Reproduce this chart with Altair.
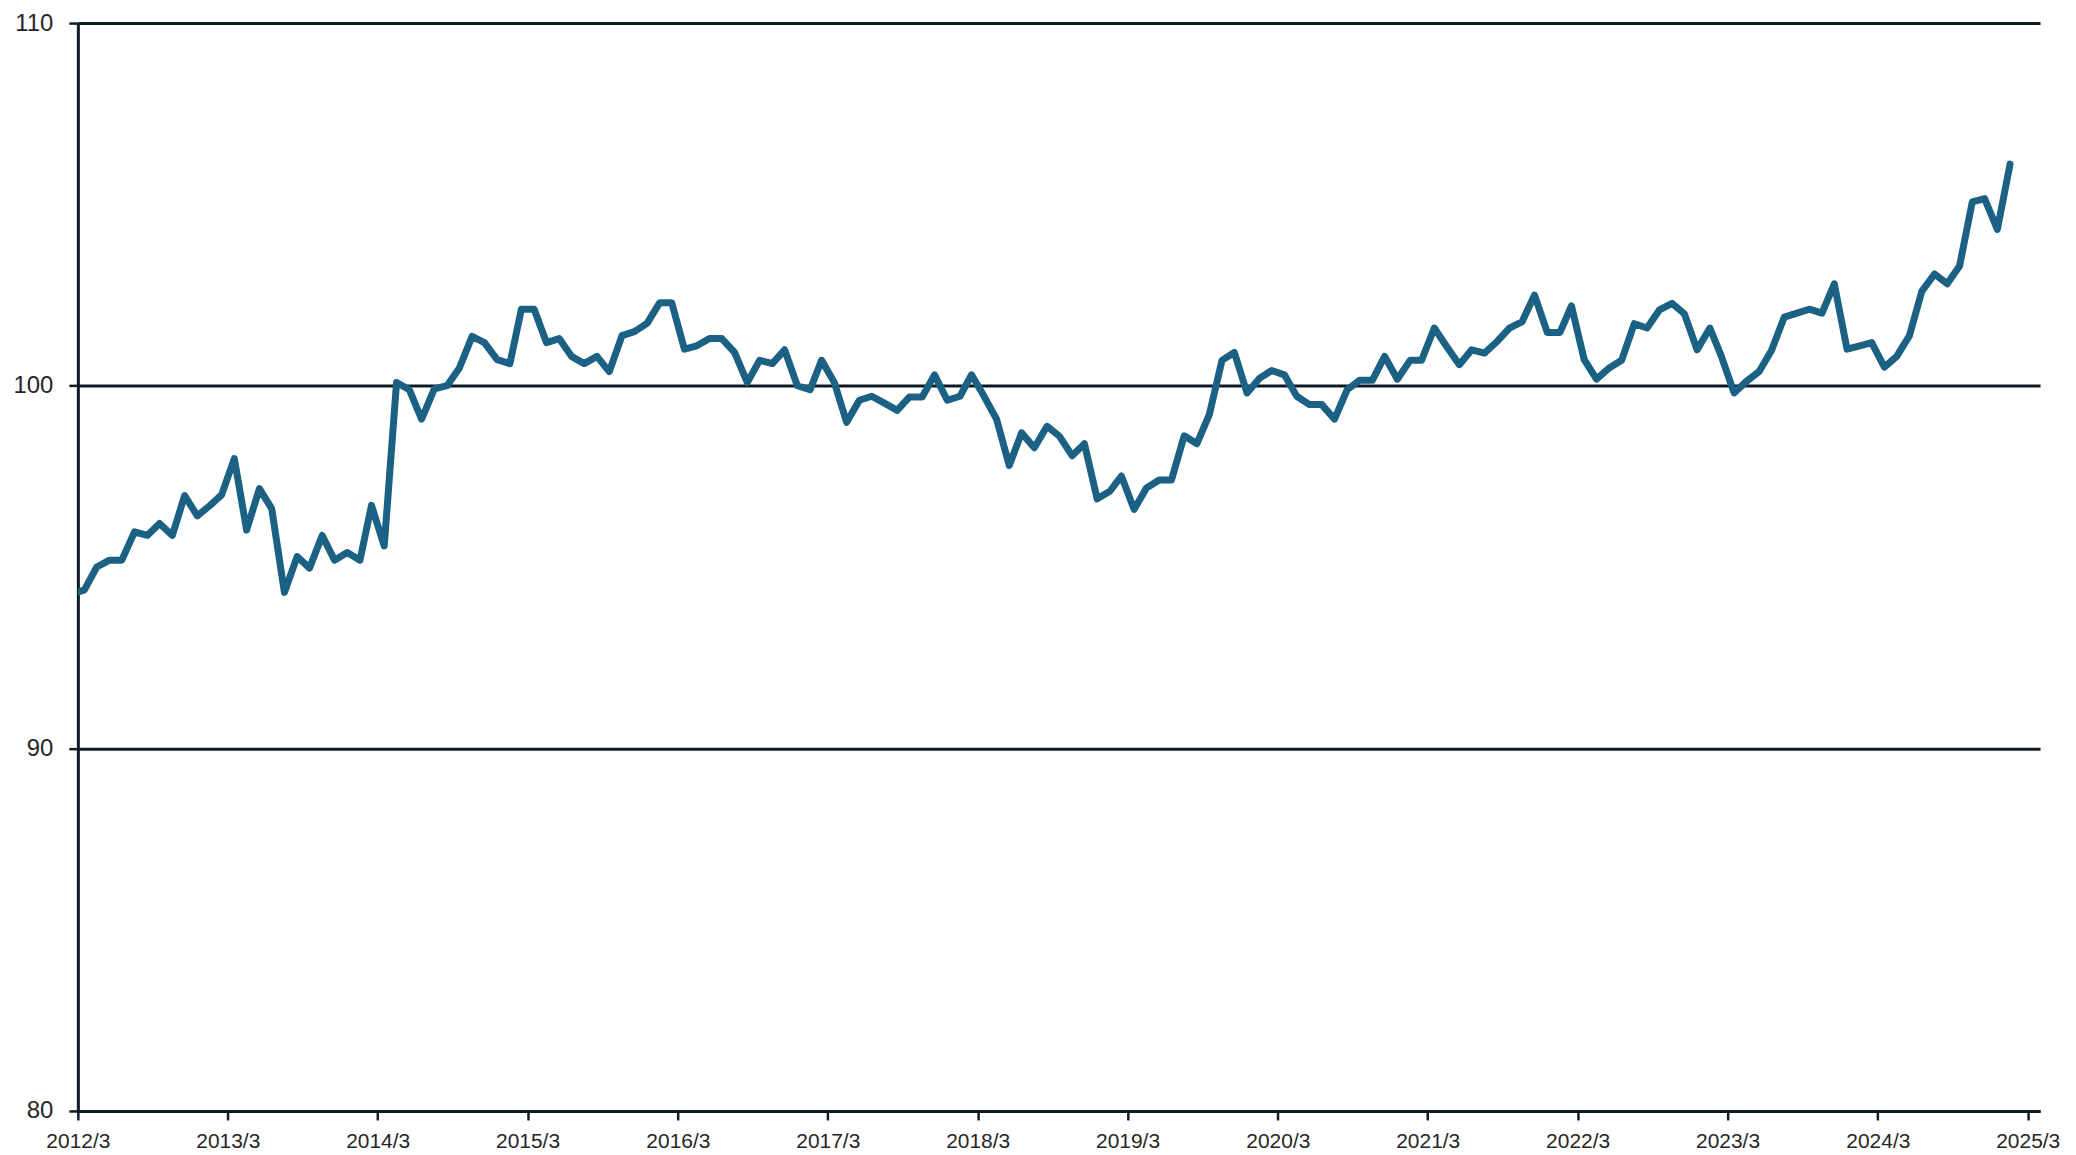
import altair as alt
import pandas as pd

# Monthly index values, first month 2012/3
start_month = "2012-03-01"
index_values = [
    94.25, 94.37, 95.00, 95.19, 95.19, 95.97, 95.87, 96.20, 95.87, 96.97, 96.41, 96.70,
    96.99, 97.99, 96.02, 97.16, 96.61, 94.30, 95.29, 94.97, 95.87, 95.19, 95.40, 95.19,
    96.70, 95.58, 100.09, 99.89, 99.08, 99.91, 100.00, 100.49, 101.36, 101.19, 100.72, 100.61,
    102.11, 102.11, 101.19, 101.30, 100.81, 100.61, 100.81, 100.39, 101.38, 101.49, 101.72, 102.29,
    102.29, 101.01, 101.10, 101.30, 101.30, 100.92, 100.09, 100.70, 100.61, 100.99, 100.00, 99.89,
    100.70, 100.09, 98.99, 99.60, 99.71, 99.52, 99.32, 99.69, 99.69, 100.30, 99.60, 99.71,
    100.30, 99.70, 99.08, 97.80, 98.70, 98.29, 98.88, 98.61, 98.07, 98.40, 96.88, 97.09,
    97.51, 96.59, 97.18, 97.40, 97.40, 98.62, 98.40, 99.20, 100.70, 100.92, 99.80, 100.21,
    100.42, 100.30, 99.71, 99.48, 99.48, 99.08, 99.89, 100.15, 100.15, 100.81, 100.18, 100.70,
    100.70, 101.59, 101.08, 100.58, 100.99, 100.90, 101.22, 101.59, 101.77, 102.50, 101.47, 101.47,
    102.20, 100.72, 100.18, 100.49, 100.70, 101.71, 101.59, 102.09, 102.27, 101.98, 100.99, 101.59,
    100.81, 99.80, 100.12, 100.39, 100.97, 101.89, 102.00, 102.11, 102.00, 102.81, 101.01, 101.10,
    101.19, 100.51, 100.81, 101.38, 102.60, 103.08, 102.81, 103.30, 105.07, 105.16, 104.31, 106.11,
]
tick_years = list(range(2012, 2026))
y_ticks = [80, 90, 100, 110]

dates = pd.date_range(start_month, periods=len(index_values), freq="MS")
df = pd.DataFrame({"date": dates, "value": index_values})

dark = "#0f1a24"
text_color = "#262626"

x_tick_values = [alt.DateTime(year=y, month=3, date=16) for y in tick_years]

chart = (
    alt.Chart(df)
    .mark_line(color="#1a6183", strokeWidth=7, strokeJoin="round", strokeCap="round", clip=True)
    .encode(
        x=alt.X(
            "date:T",
            title=None,
            scale=alt.Scale(
                domain=[alt.DateTime(year=2012, month=3, date=16), alt.DateTime(year=2025, month=4, date=15)]
            ),
            axis=alt.Axis(
                values=x_tick_values,
                format="%Y/%-m",
                grid=False,
                domainColor=dark,
                domainWidth=3,
                tickColor=dark,
                tickWidth=2.5,
                tickSize=9,
                labelPadding=11,
                labelFont="Liberation Sans",
                labelFontSize=21,
                labelColor=text_color,
                labelFlush=False,
                labelOverlap=False,
            ),
        ),
        y=alt.Y(
            "value:Q",
            title=None,
            scale=alt.Scale(domain=[80, 110], nice=False, zero=False),
            axis=alt.Axis(
                values=y_ticks,
                grid=True,
                gridColor=dark,
                gridWidth=3,
                gridOpacity=1,
                domainColor=dark,
                domainWidth=3,
                tickColor=dark,
                tickWidth=2.5,
                tickSize=9,
                labelPadding=16,
                labelFont="Liberation Sans",
                labelFontSize=24,
                labelColor=text_color,
            ),
        ),
    )
    .properties(
        width=1966,
        height=1090,
        autosize=alt.AutoSizeParams(type="none"),
        padding={"left": 70, "top": 14, "right": 28, "bottom": 46},
        background="white",
    )
    .configure_view(strokeWidth=0)
)

chart.save("out.html", embed_options={"renderer": "svg", "actions": False})
